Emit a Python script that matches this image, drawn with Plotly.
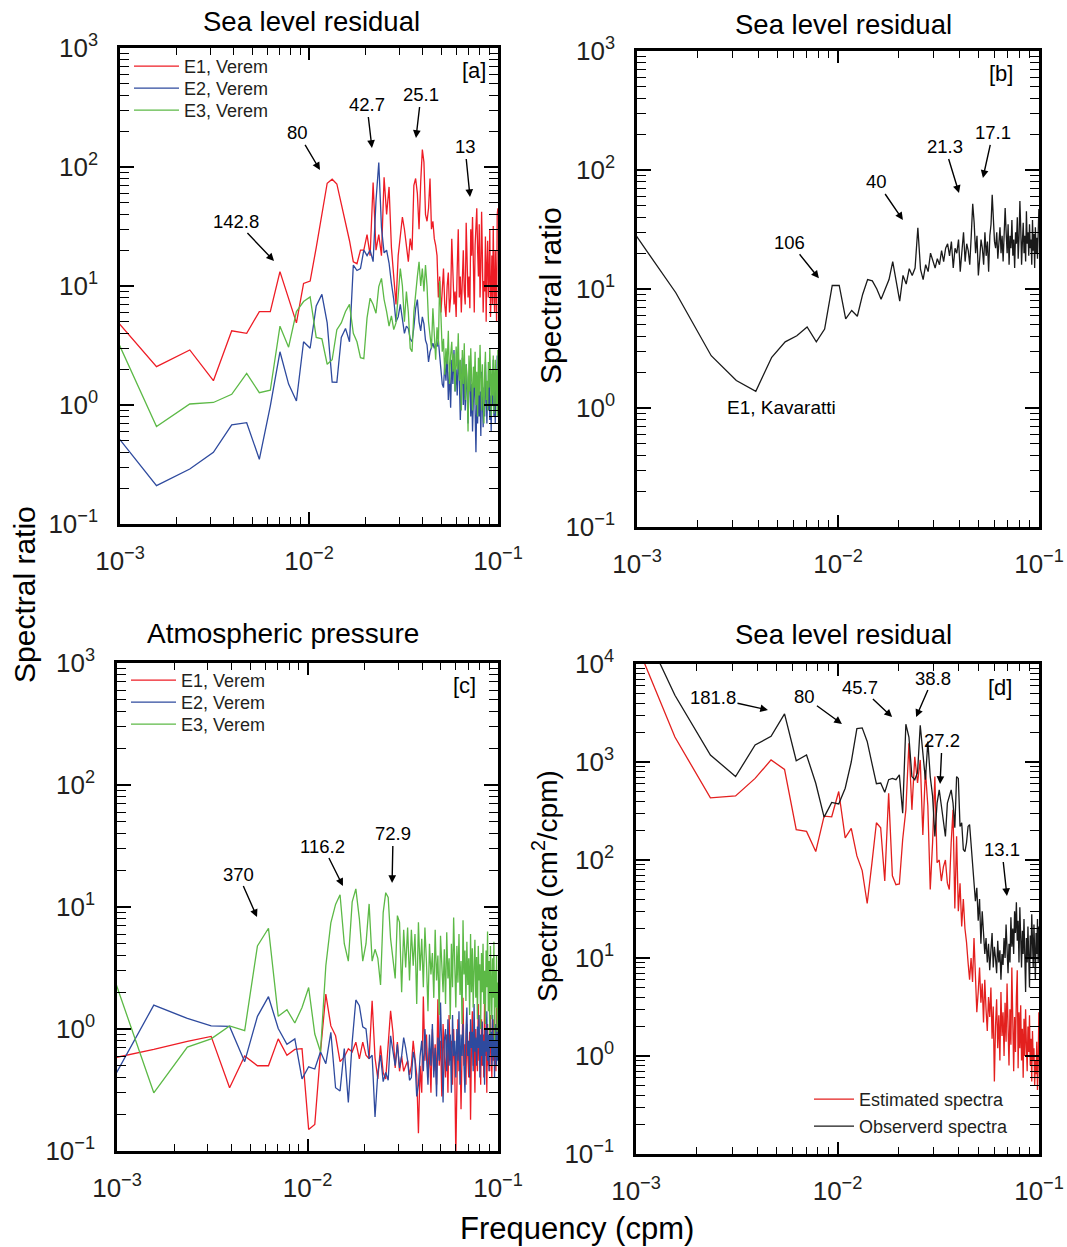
import numpy as np
import plotly.graph_objects as go

# ---------------- data ----------------
DF = 0.00078                      # frequency resolution (cpm)
K = np.arange(1, 129)
freq = K * DF                     # frequency grid (cpm)

# Panel [a] : sea level residual spectral ratio, Verem
a_e1 = [7.5, 2.1, 2.9, 1.6, 4.2, 4.0, 6.1, 6.1, 13.2, 8.0, 4.9, 10.5, 11, 21, 41, 73, 79, 72, 49, 35,
        24, 16, 15.4, 20, 20, 27, 18, 74, 20, 27, 18, 82, 40, 68, 21, 12, 7, 18, 25, 38,
        30, 22, 16, 25, 20, 70, 80, 60, 30, 75, 140, 110, 40, 35, 45, 80, 30, 35, 25, 22,
        18, 8, 12, 6, 9, 14, 7, 5.5, 10, 13, 6, 8, 25, 11, 7, 9, 5.5, 14, 30, 8,
        12, 6, 10, 20, 9, 7, 34, 15, 8, 12, 6.5, 30, 18, 38, 10, 6, 22, 40, 45, 20,
        12, 33, 8, 14, 42, 18, 6, 11, 9, 26, 5, 15, 24, 8, 12, 30, 5.5, 9, 18, 7,
        32, 10, 6, 20, 12, 5, 40, 45]
a_e2 = [0.84, 0.21, 0.29, 0.40, 0.68, 0.71, 0.35, 0.98, 2.8, 1.5, 1.08, 3.4, 3.0, 6.8, 8.5, 4.9, 1.56, 1.55, 3.7, 4.4,
        3.4, 15, 13.5, 14, 20, 18, 20, 16, 52, 109, 31, 19, 20, 15.6, 10.5, 7.7, 5.0, 5.5, 7.0, 5.0,
        4.0, 4.6, 4.4, 3.6, 3.4, 4.5, 6.5, 7.7, 5.0, 4.2, 5.5, 4.8, 3.5, 3.2, 2.3, 2.8, 3.0, 3.3, 3.0, 3.2,
        3.1, 3.5, 2.6, 2.0, 1.5, 1.4, 2.2, 1.6, 2.8, 1.1, 1.9, 0.95, 2.4, 1.5, 2.9, 1.3, 2.0, 1.2, 2.6, 1.7,
        0.75, 1.4, 2.5, 1.0, 1.8, 0.9, 2.2, 1.3, 0.7, 1.6, 2.0, 0.8, 1.5, 0.6, 1.2, 2.1, 0.9, 0.4, 1.1, 0.7,
        1.6, 0.8, 1.3, 0.55, 1.9, 1.0, 0.65, 1.4, 0.8, 2.3, 1.1, 0.7, 1.5, 0.9, 2.0, 0.75, 1.2, 0.6, 1.7, 1.0,
        2.4, 0.8, 1.3, 0.7, 1.8, 1.1, 2.6, 1.0]
a_e3 = [7.4, 0.66, 1.02, 1.05, 1.23, 1.84, 1.27, 1.33, 4.6, 3.06, 6.1, 7.4, 8.1, 3.7, 3.6, 2.2, 2.4, 4.3, 4.9, 6.1,
        7.0, 4.0, 3.4, 2.5, 2.45, 5.4, 7.9, 7.0, 5.9, 9.9, 11.6, 7.7, 6.1, 4.6, 5.6, 4.3, 4.9, 7.7, 14, 10,
        5, 9, 6, 3, 2.8, 6, 8, 12, 16, 10, 14, 9, 15, 10, 5, 4.0, 3.0, 6.5, 3.5, 2.4,
        4.5, 3.2, 11, 5.0, 2.8, 3.6, 1.8, 3.0, 2.2, 4.2, 1.5, 2.6, 3.4, 1.9, 2.7, 1.3, 3.1, 2.0, 4.0, 1.6,
        2.4, 0.9, 2.9, 1.5, 3.3, 1.1, 2.2, 1.7, 0.6, 2.6, 1.3, 3.0, 1.8, 0.9, 2.1, 1.4, 2.8, 1.0, 1.9, 0.8,
        2.5, 1.2, 3.2, 1.6, 0.9, 2.2, 1.3, 0.7, 1.9, 2.8, 1.1, 1.6, 0.9, 2.3, 1.4, 3.0, 1.8, 0.8, 2.0, 1.2,
        2.6, 0.85, 1.7, 2.4, 1.0, 2.0, 0.8, 2.9]

# Panel [b] : sea level residual spectral ratio, Kavaratti
b_e1 = [50, 9.3, 2.75, 1.7, 1.38, 2.67, 3.6, 4.05, 4.8, 3.6, 4.6, 10.7, 10.7, 5.6, 6.6, 5.9, 9, 12, 11.7, 10,
        8.2, 10, 12, 17, 11, 7.9, 13, 11, 14.8, 13, 15, 32.7, 14.6, 12, 16, 14, 20, 17, 15, 18,
        16, 21, 17, 22, 24, 19, 25, 15, 22, 20, 26, 14, 22, 30, 17, 24, 21, 16, 28, 52,
        36, 20, 28, 13, 18, 26, 22, 16, 30, 19, 25, 14, 28, 35, 62, 40, 25, 22, 30, 18,
        24, 33, 20, 28, 17, 25, 48, 30, 20, 35, 16, 28, 22, 38, 19, 26, 15, 30, 24, 40,
        18, 27, 55, 33, 16, 25, 36, 20, 28, 17, 45, 24, 30, 19, 35, 22, 26, 16, 38, 21,
        29, 15, 33, 20, 27, 18, 36, 47]

# Panel [c] : atmospheric pressure spectral ratio, Verem
c_e1 = [0.54, 0.68, 0.79, 0.87, 0.33, 0.60, 0.50, 0.50, 0.83, 0.61, 0.68, 0.69, 0.15, 0.165, 0.65, 1.93, 1.06, 0.88, 0.54, 0.59,
        0.69, 0.65, 0.78, 0.57, 0.78, 0.61, 0.57, 1.70, 0.58, 0.39, 0.73, 0.44, 0.39, 0.83, 1.41, 0.94, 0.48, 0.78, 0.45, 0.60,
        0.45, 0.5, 0.55, 0.42, 0.5, 0.8, 0.6, 0.42, 0.14, 0.5, 0.3, 1.85, 0.55, 0.9, 0.4, 0.7, 0.3, 1.0, 0.45, 0.75,
        0.35, 1.75, 0.5, 0.8, 0.28, 1.1, 0.6, 0.4, 0.9, 0.3, 1.3, 0.55, 0.8, 0.35, 1.0, 0.5, 0.09, 0.6, 1.2, 0.45,
        0.7, 0.22, 0.9, 1.8, 0.5, 0.75, 0.35, 1.1, 0.6, 0.4, 0.95, 0.18, 0.7, 1.4, 0.5, 0.85, 0.3, 1.0, 0.6, 0.45,
        1.6, 0.55, 0.8, 0.35, 1.2, 0.5, 0.9, 0.4, 1.8, 0.6, 0.75, 0.3, 1.1, 0.5, 0.85, 0.45, 1.3, 0.6, 0.4, 0.9,
        0.55, 1.2, 0.5, 0.8, 0.45, 1.5, 0.6, 1.0]
c_e2 = [0.22, 1.57, 1.22, 1.06, 1.05, 0.54, 1.27, 1.84, 1.01, 0.75, 0.83, 0.39, 0.49, 0.47, 0.65, 0.52, 0.94, 0.33, 0.31, 0.69,
        0.25, 0.78, 1.73, 1.55, 1.04, 1.0, 0.57, 0.61, 0.19, 0.44, 0.61, 0.37, 0.44, 0.38, 0.88, 0.65, 0.5, 0.75, 0.48, 0.6,
        0.85, 0.7, 0.55, 0.38, 0.4, 0.65, 0.55, 0.28, 0.35, 0.6, 0.8, 0.45, 1.0, 0.6, 0.35, 0.9, 0.5, 1.1, 0.4, 0.7,
        0.28, 0.85, 0.55, 1.65, 0.6, 0.25, 0.8, 1.0, 0.45, 1.2, 0.5, 0.9, 0.3, 1.3, 0.6, 0.8, 0.4, 1.0, 0.55, 1.4,
        0.35, 0.9, 0.6, 1.1, 0.5, 0.3, 0.95, 1.5, 0.6, 0.8, 0.4, 1.2, 0.7, 0.95, 0.45, 1.6, 0.65, 0.85, 0.5, 1.05,
        0.7, 1.3, 0.4, 0.9, 0.6, 1.15, 0.5, 0.8, 0.35, 1.0, 0.65, 1.4, 0.55, 0.9, 0.45, 1.2, 0.7, 0.95, 0.5, 1.3,
        0.6, 0.85, 0.4, 1.1, 0.75, 0.5, 1.2, 0.55]
c_e3 = [6.8, 0.30, 0.71, 0.83, 1.06, 0.97, 4.8, 6.7, 1.27, 1.44, 1.12, 1.5, 2.19, 0.91, 0.65, 3.3, 7.4, 10.5, 12.6, 5.0,
        3.6, 11, 14.1, 8, 3.6, 5.0, 10.6, 3.6, 4.5, 3.8, 2.3, 9, 13.1, 12, 5.5, 3.6, 2.6, 8.5, 7.5, 2.0,
        6.5, 3.2, 6.8, 2.5, 6.5, 3.3, 6.0, 1.6, 7.5, 3.0, 5.5, 2.2, 6.8, 3.5, 1.4, 5.0, 2.8, 4.2, 1.8, 6.5,
        2.5, 4.0, 1.3, 5.8, 3.0, 2.0, 4.5, 1.6, 6.2, 2.6, 3.8, 1.2, 5.0, 2.2, 8.2, 3.4, 1.5, 4.8, 2.4, 6.0,
        1.9, 3.6, 1.1, 7.8, 2.8, 4.4, 1.7, 5.2, 2.3, 3.8, 1.3, 6.0, 2.0, 4.6, 1.5, 3.2, 5.4, 1.8, 3.9, 1.2,
        4.8, 2.5, 3.4, 1.0, 4.2, 2.0, 5.0, 1.6, 3.0, 1.1, 4.4, 2.2, 6.3, 1.4, 3.6, 0.9, 4.8, 2.4, 1.2, 3.8,
        1.8, 5.2, 0.8, 3.0, 1.5, 4.0, 0.95, 2.4]

# Panel [d] : sea level residual spectra (cm^2/cpm)
d_est = [57000, 1800, 430, 450, 680, 1050, 840, 204, 196, 122, 280, 276, 500, 168, 210, 110, 78, 36, 93, 240,
         213, 61, 480, 69, 56, 57, 162, 325, 1550, 325, 1130, 610, 1050, 180, 830, 355, 50, 150, 710, 94,
         100, 61, 85, 100, 58, 50, 150, 325, 32, 175, 30, 58, 21, 40, 20, 14.5, 9, 6, 10, 5.7,
         16, 7, 2.8, 4.5, 8, 3.5, 5.5, 2.2, 6, 3, 1.8, 4, 2.5, 5, 1.5, 3.2, 0.55, 2.0, 3.8, 1.2,
         2.6, 0.9, 4.5, 1.6, 2.8, 1.0, 3.5, 1.4, 5.5, 2.0, 0.8, 3.0, 1.3, 8.0, 2.2, 0.7, 2.5, 1.1, 4.0, 7.5,
         0.75, 2.8, 1.2, 3.3, 0.9, 1.9, 0.6, 2.4, 1.0, 3.0, 1.3, 0.7, 2.0, 1.1, 2.6, 0.8, 1.5, 0.55, 1.8, 0.9,
         1.2, 0.5, 0.9, 0.65, 1.4, 0.45, 0.8, 2.8]
d_obs = [100000, 4800, 1180, 710, 1490, 1830, 3100, 1030, 1180, 607, 274, 387, 373, 540, 1000, 2190, 2230, 1620, 970, 600,
         610, 490, 660, 680, 660, 740, 300, 2430, 1800, 710, 660, 780, 2370, 1320, 660, 1620, 710, 450, 174, 380,
         520, 360, 240, 174, 380, 450, 520, 380, 213, 710, 680, 220, 240, 128, 122, 150, 220, 230, 150, 94,
         60, 38, 52, 24, 40, 14, 30, 20, 11, 16, 9, 14, 7.5, 12, 18, 8, 13, 10, 7, 15,
         9, 12, 6, 11, 8.5, 16, 10, 22, 12, 7, 14, 9, 26, 13, 20, 11, 30, 18, 37, 15,
         24, 9, 33, 14, 8, 19, 11, 25, 13, 4.5, 16, 9, 21, 12, 5, 17, 10, 28, 13, 8,
         22, 14, 6, 18, 11, 25, 9, 21]

VEREM_NAMES = ["E1, Verem", "E2, Verem", "E3, Verem"]
D_NAMES = ["Estimated spectra", "Observerd spectra"]

RED, BLUE, GREEN, BLACK = "#ee1c25", "#2e4a9e", "#5cb946", "#1a1a1a"
FONT = "Liberation Sans, Arial, sans-serif"
TXT = "#231f20"

W, H = 1067, 1247


def px(x):
    return x / W


def py(y):
    return 1 - y / H


# ---------------- figure ----------------
fig = go.Figure()

lw = 1.3
# one legend per entry so that spacing can match the reference
for i, (ys, nm, col) in enumerate(zip([a_e1, a_e2, a_e3], VEREM_NAMES, [RED, BLUE, GREEN])):
    fig.add_trace(go.Scatter(x=freq, y=ys, mode="lines", name=nm, line=dict(color=col, width=lw),
                             xaxis="x", yaxis="y", legend="legend" if i == 0 else "legend%d" % (i + 1)))
fig.add_trace(go.Scatter(x=freq, y=b_e1, mode="lines", name="E1, Kavaratti", showlegend=False,
                         line=dict(color=BLACK, width=lw), xaxis="x2", yaxis="y2"))
for i, (ys, nm, col) in enumerate(zip([c_e1, c_e2, c_e3], VEREM_NAMES, [RED, BLUE, GREEN])):
    fig.add_trace(go.Scatter(x=freq, y=ys, mode="lines", name=nm, line=dict(color=col, width=lw),
                             xaxis="x3", yaxis="y3", legend="legend%d" % (i + 4)))
fig.add_trace(go.Scatter(x=freq, y=d_est, mode="lines", name=D_NAMES[0], line=dict(color="#e3201e", width=lw),
                         xaxis="x4", yaxis="y4", legend="legend7"))
fig.add_trace(go.Scatter(x=freq, y=d_obs, mode="lines", name=D_NAMES[1], line=dict(color=BLACK, width=lw),
                         xaxis="x4", yaxis="y4", legend="legend8"))

XT = [1e-3, 1e-2, 1e-1]
XT_TXT = ["10<sup>\u22123</sup>", "10<sup>\u22122</sup>", "10<sup>\u22121</sup>"]
XMINOR = [m * 10.0 ** e for e in (-3, -2) for m in range(2, 10)]


def ydecades(lo, hi):
    vals = [10.0 ** e for e in range(lo, hi + 1)]
    txt = ["10<sup>%s</sup>" % (str(e).replace("-", "\u2212")) for e in range(lo, hi + 1)]
    minor = [m * 10.0 ** e for e in range(lo, hi) for m in range(2, 10)]
    return vals, txt, minor


def xax(dom, anchor):
    return dict(type="log", range=[-3, -1], domain=dom, anchor=anchor, showline=True, linecolor="black",
                linewidth=2.5, mirror="ticks", ticks="inside", ticklen=12, tickwidth=1.5, tickcolor="black",
                tickvals=XT, ticktext=XT_TXT, tickfont=dict(size=26, color=TXT, family=FONT),
                showgrid=False, zeroline=False, ticklabelstandoff=12, automargin=False,
                minor=dict(ticks="inside", ticklen=7, tickwidth=1.2, tickcolor="black", tickvals=XMINOR,
                           showgrid=False))


def yax(dom, anchor, lo, hi):
    vals, txt, minor = ydecades(lo, hi)
    return dict(type="log", range=[lo, hi], domain=dom, anchor=anchor, showline=True, linecolor="black",
                linewidth=2.5, mirror="ticks", ticks="inside", ticklen=14, tickwidth=1.5, tickcolor="black",
                tickvals=vals, ticktext=txt, tickfont=dict(size=26, color=TXT, family=FONT),
                showgrid=False, zeroline=False, ticklabelstandoff=14, automargin=False,
                minor=dict(ticks="inside", ticklen=9, tickwidth=1.2, tickcolor="black", tickvals=minor,
                           showgrid=False))


def leg(x, yc, iw=45):
    return dict(x=px(x), y=py(yc - 18), xanchor="left", yanchor="top", bgcolor="rgba(0,0,0,0)",
                font=dict(size=18, color=TXT, family=FONT), itemwidth=iw)


fig.update_layout(
    template="none",
    width=W, height=H, margin=dict(l=0, r=0, t=0, b=0, autoexpand=False),
    paper_bgcolor="white", plot_bgcolor="white",
    font=dict(family=FONT, color=TXT),
    xaxis=xax([px(120), px(498)], "y"),
    yaxis=yax([py(524), py(48)], "x", -1, 3),
    xaxis2=xax([px(637), px(1039)], "y2"),
    yaxis2=yax([py(527), py(51)], "x2", -1, 3),
    xaxis3=xax([px(117), px(498)], "y3"),
    yaxis3=yax([py(1151), py(663)], "x3", -1, 3),
    xaxis4=xax([px(636), px(1039)], "y4"),
    yaxis4=yax([py(1154), py(664)], "x4", -1, 4),
    legend=leg(129, 66), legend2=leg(129, 88), legend3=leg(129, 110),
    legend4=leg(126, 680), legend5=leg(126, 702), legend6=leg(126, 724),
    legend7=leg(809, 1099, 40), legend8=leg(809, 1126, 40),
)

ann = []


def title(text, x, y, size=28):
    ann.append(dict(text=text, x=px(x), y=py(y), xref="paper", yref="paper", showarrow=False,
                    font=dict(size=size, color="black", family=FONT), xanchor="center", yanchor="middle"))


title("Sea level residual", 311, 21, 27.5)
title("Sea level residual", 843, 25, 27.5)
title("Atmospheric pressure", 283, 633, 28)
title("Sea level residual", 843, 635, 27.5)
title("Frequency (cpm)", 577, 1228, 31)


def vtitle(text, x, y, size=30):
    ann.append(dict(text=text, x=px(x), y=py(y), xref="paper", yref="paper", showarrow=False, textangle=-90,
                    font=dict(size=size, color="black", family=FONT), xanchor="center", yanchor="middle"))


vtitle("Spectral ratio", 25, 595)
vtitle("Spectral ratio", 550, 295)
vtitle("Spectra (cm<sup>2</sup>/cpm)", 545, 886, 28)


def tag(text, x, y):
    ann.append(dict(text=text, x=px(x), y=py(y), xref="paper", yref="paper", showarrow=False,
                    font=dict(size=22, color="black", family=FONT), xanchor="center", yanchor="middle"))


tag("[a]", 474, 70)
tag("[b]", 1001, 74)
tag("[c]", 464, 685)
tag("[d]", 1000, 687)


def peak(text, ax_id, xl, yl, dx, dy):
    ann.append(dict(text=text, x=xl, y=yl, xref=ax_id, yref=ax_id.replace("x", "y"), showarrow=True,
                    ax=dx, ay=dy, arrowhead=2, arrowsize=1.1, arrowwidth=1.4, arrowcolor="black", standoff=0,
                    font=dict(size=18.5, color="black", family=FONT)))


peak("142.8", "x", -2.185, 1.21, -38, -40)
peak("80", "x", -1.942, 1.975, -22, -37)
peak("42.7", "x", -1.667, 2.16, -5, -43)
peak("25.1", "x", -1.434, 2.244, 5, -43)
peak("13", "x", -1.148, 1.748, -5, -50)

peak("106", "x2", -2.095, 1.09, -29, -36)
peak("40", "x2", -1.677, 1.58, -26, -38)
peak("21.3", "x2", -1.398, 1.807, -14, -46)
peak("17.1", "x2", -1.279, 1.933, 10, -45)
ann.append(dict(text="E1, Kavaratti", x=-2.279, y=0.008, xref="x2", yref="y2", showarrow=False,
                font=dict(size=19, color="black", family=FONT)))

peak("370", "x3", -2.265, 0.918, -19, -43)
peak("116.2", "x3", -1.814, 1.172, -20, -40)
peak("72.9", "x3", -1.556, 1.197, 1, -49)

peak("181.8", "x4", -2.345, 3.531, -55, -12)
peak("80", "x4", -1.978, 3.388, -37, -27)
peak("45.7", "x4", -1.729, 3.459, -32, -30)
peak("38.8", "x4", -1.61, 3.459, 17, -39)
peak("27.2", "x4", -1.491, 2.776, 2, -43)
peak("13.1", "x4", -1.159, 1.633, -5, -46)

fig.update_layout(annotations=ann)

fig.write_html("out.html")
